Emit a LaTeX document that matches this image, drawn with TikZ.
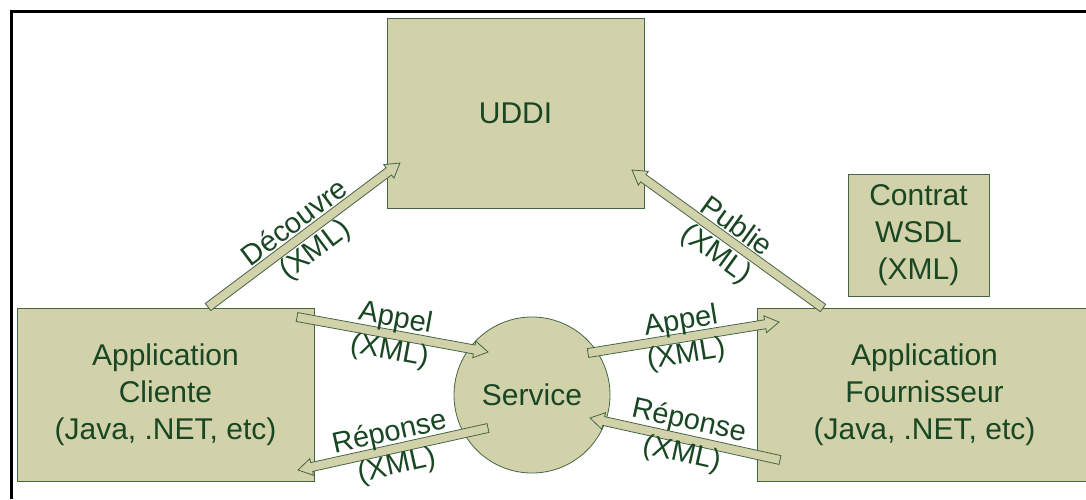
\documentclass[tikz,border=0pt]{standalone}
\usepackage{fontspec}
\setmainfont{Liberation Sans}
\usetikzlibrary{calc}
\definecolor{boxfill}{RGB}{210,210,170}
\definecolor{boxline}{RGB}{70,100,70}
\definecolor{txtgreen}{RGB}{25,70,35}
\tikzset{
x=1pt, y=-1pt, % one unit is one pixel, y goes down
box/.style={draw=boxline, fill=boxfill, line width=0.8pt, text=txtgreen, align=center, font=\fontsize{30}{37}\selectfont}, % the grey-green boxes
lbl/.style={text=txtgreen, font=\fontsize{29}{34}\selectfont, inner sep=1pt}, % labels along the arrows
fat/.style={fill=boxfill, draw=boxline, line width=0.8pt, line join=miter}, % block arrows
}
% block arrow from #1 to #2
\newcommand{\blockarrow}[2]{%
  \path[fat] let \p1=($(#2)-(#1)$), \n1={atan2(\y1,\x1)} in
    ($(#1)+(\n1+90:4.5pt)$) -- ($(#2)+(\n1+180:14pt)+(\n1+90:4.5pt)$)
    -- ($(#2)+(\n1+180:14pt)+(\n1+90:8.5pt)$) -- (#2)
    -- ($(#2)+(\n1+180:14pt)+(\n1-90:8.5pt)$) -- ($(#2)+(\n1+180:14pt)+(\n1-90:4.5pt)$)
    -- ($(#1)+(\n1-90:4.5pt)$) -- cycle;}
\begin{document}
\begin{tikzpicture}
  \useasboundingbox (0,0) rectangle (1086,499);
  \clip (0,0) rectangle (1086,499);
  \draw[line width=3pt] (11.5,499) -- (11.5,11.5) -- (1086,11.5);

  \node[box, minimum width=257pt, minimum height=190pt] (uddi) at (515.5,113) {UDDI};
  \node[box, minimum width=141pt, minimum height=122pt] (wsdl) at (918.5,235) {Contrat\\WSDL\\(XML)};
  \node[box, minimum width=297pt, minimum height=173pt] (client) at (165.5,394.5) {Application\\Cliente\\(Java, .NET, etc)};
  \node[box, minimum width=335pt, minimum height=173pt] (fourn) at (924.5,394.5) {Application\\Fournisseur\\(Java, .NET, etc)};
  \node[box, circle, minimum size=156pt, inner sep=0pt] (service) at (532,395) {Service};

  % arrow ends
  \coordinate (dec1) at (208,307);  \coordinate (dec2) at (400,163);
  \coordinate (pub1) at (823,308);  \coordinate (pub2) at (632,170);
  \coordinate (appL1) at (297,317); \coordinate (appL2) at (488,352);
  \coordinate (repL1) at (488,428); \coordinate (repL2) at (298,470);
  \coordinate (appR1) at (588,353); \coordinate (appR2) at (779,322);
  \coordinate (repR1) at (780,460); \coordinate (repR2) at (590,418);

  \blockarrow{dec1}{dec2}
  \blockarrow{pub1}{pub2}
  \blockarrow{appL1}{appL2}
  \blockarrow{repL1}{repL2}
  \blockarrow{appR1}{appR2}
  \blockarrow{repR1}{repR2}

  \path (dec1) -- (dec2) node[lbl, midway, sloped, above=5pt] {Découvre} node[lbl, midway, sloped, below=5pt] {(XML)};
  \path (pub1) -- (pub2) node[lbl, midway, sloped, above=5pt] {Publie} node[lbl, midway, sloped, below=5pt] {(XML)};
  \path (appL1) -- (appL2) node[lbl, midway, sloped, above=1pt] {Appel} node[lbl, midway, sloped, below=3pt] {(XML)};
  \path (repL1) -- (repL2) node[lbl, midway, sloped, above=1pt] {Réponse} node[lbl, midway, sloped, below=3pt] {(XML)};
  \path (appR1) -- (appR2) node[lbl, midway, sloped, above=1pt] {Appel} node[lbl, midway, sloped, below=3pt] {(XML)};
  \path (repR1) -- (repR2) node[lbl, midway, sloped, above=3pt] {Réponse} node[lbl, midway, sloped, below=1pt] {(XML)};
\end{tikzpicture}
\end{document}
